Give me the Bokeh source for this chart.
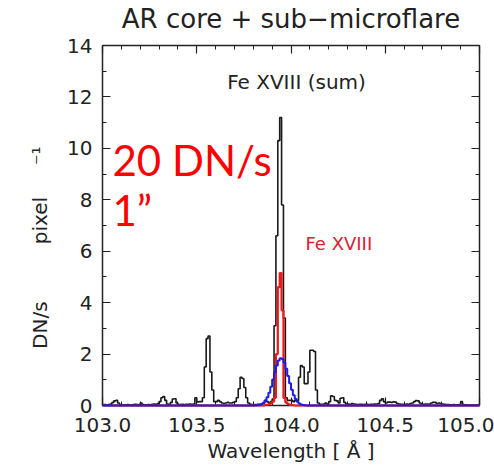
import numpy as np
from bokeh.plotting import figure
from bokeh.models import (Range1d, LinearAxis, SingleIntervalTicker, NumeralTickFormatter,
                          Label, CustomLabelingPolicy)
from bokeh.embed import file_html
from bokeh.resources import INLINE

# ---------------- data ----------------
wl_start = 103.0      # first bin edge [Angstrom]
bin_width = 0.01      # bin width [Angstrom]

# Fe XVIII (sum) spectrum, DN/s pixel^-1, 200 bins 103.00 .. 105.00
black_counts = [
    0.04, 0.04, 0.03, 0.04, 0.06, 0.12, 0.18, 0.20, 0.10, 0.04,   # 103.0
    0.03, 0.02, 0.03, 0.04, 0.03, 0.03, 0.04, 0.05, 0.04, 0.03,   # 103.1
    0.10, 0.04, 0.03, 0.03, 0.04, 0.03, 0.05, 0.06, 0.05, 0.08,   # 103.2
    0.15, 0.30, 0.35, 0.20, 0.06, 0.05, 0.12, 0.25, 0.26, 0.10,   # 103.3
    0.04, 0.04, 0.05, 0.04, 0.05, 0.05, 0.06, 0.05, 0.06, 0.30,   # 103.4
    0.14, 0.15, 0.15, 0.30, 1.50, 2.60, 2.70, 1.30, 0.60, 0.15,   # 103.5
    0.15, 0.20, 0.15, 0.10, 0.08, 0.10, 0.12, 0.10, 0.10, 0.12,   # 103.6
    0.15, 0.30, 0.65, 1.10, 1.05, 0.70, 0.30, 0.10, 0.05, 0.04,   # 103.7
    0.04, 0.04, 0.05, 0.05, 0.06, 0.08, 0.20, 0.15, 0.10, 0.15,   # 103.8
    0.25, 3.10, 6.60, 10.30, 11.20, 7.80, 3.40, 0.30, 0.20, 0.20, # 103.9
    0.20, 0.15, 0.20, 0.20, 1.10, 1.55, 1.50, 0.85, 0.85, 1.30,   # 104.0
    2.15, 2.15, 2.10, 0.60, 0.10, 0.05, 0.05, 0.06, 0.10, 0.05,   # 104.1
    0.15, 0.38, 0.35, 0.20, 0.18, 0.10, 0.28, 0.30, 0.12, 0.06,   # 104.2
    0.06, 0.05, 0.08, 0.06, 0.05, 0.04, 0.05, 0.05, 0.04, 0.05,   # 104.3
    0.05, 0.04, 0.05, 0.05, 0.06, 0.06, 0.08, 0.20, 0.26, 0.15,   # 104.4
    0.10, 0.13, 0.13, 0.12, 0.14, 0.13, 0.08, 0.06, 0.05, 0.05,   # 104.5
    0.05, 0.06, 0.05, 0.08, 0.10, 0.15, 0.19, 0.18, 0.10, 0.06,   # 104.6
    0.05, 0.06, 0.06, 0.05, 0.10, 0.12, 0.12, 0.08, 0.10, 0.08,   # 104.7
    0.06, 0.05, 0.04, 0.04, 0.03, 0.03, 0.04, 0.03, 0.03, 0.04,   # 104.8
    0.15, 0.04, 0.03, 0.03, 0.02, 0.02, 0.02, 0.02, 0.02, 0.02,   # 104.9
]

# single Fe XVIII line (red) and broad component (blue), 30 bins from 103.80
fit_start = 103.80
red_counts = [
    0.0, 0.0, 0.0, 0.0, 0.0, 0.0, 0.02, 0.03, 0.05, 0.08,
    0.15, 0.30, 2.00, 4.60, 5.15, 3.70, 0.30, 0.12, 0.06, 0.03,
    0.02, 0.01, 0.0, 0.0, 0.0, 0.0, 0.0, 0.0, 0.0, 0.0,
]
blue_counts = [
    0.002, 0.005, 0.012, 0.027, 0.055, 0.106, 0.19, 0.318, 0.50, 0.733,
    1.007, 1.293, 1.554, 1.746, 1.836, 1.805, 1.661, 1.429, 1.151, 0.866,
    0.61, 0.402, 0.248, 0.143, 0.077, 0.039, 0.018, 0.008, 0.004, 0.002,
]

x_ticks_interval = 0.5
y_ticks_interval = 2

title_text = "AR core + sub\u2212microflare"
x_label = "Wavelength [ \u00c5 ]"
NB = "\u00a0"
y_label = "DN/s" + NB * 9 + "pixel" + NB * 5 + "\u207b\u00b9" + NB * 7

# ---------------- build ----------------
n = len(black_counts)
edges = wl_start + bin_width * np.arange(n + 1)


def full(vals, start):
    arr = np.zeros(n)
    i0 = int(round((start - wl_start) / bin_width))
    arr[i0:i0 + len(vals)] = vals
    return arr


def stepy(v):
    v = np.asarray(v, dtype=float)
    return np.append(v, v[-1])


black = np.asarray(black_counts, dtype=float)
red = full(red_counts, fit_start)
blue = full(blue_counts, fit_start)

W, H = 494, 468
FL, FR, FT, FB = 102, 482, 43, 405   # frame edges in page pixels
FONT = "DejaVu Sans"
INK = "#222222"

p = figure(width=W, height=H, x_range=Range1d(103.0, 105.0), y_range=Range1d(0, 14),
           output_backend="svg", toolbar_location=None,
           min_border_left=FL, min_border_right=W - FR, min_border_top=FT,
           min_border_bottom=H - FB)
p.grid.visible = False
p.outline_line_color = None
p.background_fill_color = "white"
p.border_fill_color = "white"

p.title.text = title_text
p.title.align = "center"
p.title.text_font = FONT
p.title.text_font_size = "26px"
p.title.text_font_style = "normal"
p.title.text_color = INK
p.title.standoff = 2

bottom = p.below[0]
left = p.left[0]
bottom.ticker = SingleIntervalTicker(interval=x_ticks_interval, num_minor_ticks=5)
bottom.formatter = NumeralTickFormatter(format="0.0")
left.ticker = SingleIntervalTicker(interval=y_ticks_interval, num_minor_ticks=2)

NOLAB = "for (const i of indices) indices.unset(i)\nreturn indices"
top = LinearAxis(ticker=SingleIntervalTicker(interval=x_ticks_interval, num_minor_ticks=5),
                 major_label_policy=CustomLabelingPolicy(code=NOLAB), major_label_standoff=0)
right = LinearAxis(ticker=SingleIntervalTicker(interval=y_ticks_interval, num_minor_ticks=2),
                   major_label_policy=CustomLabelingPolicy(code=NOLAB), major_label_standoff=0)
p.add_layout(top, "above")
p.add_layout(right, "right")

for ax in [bottom, left, top, right]:
    ax.major_tick_in = 8
    ax.major_tick_out = 0
    ax.minor_tick_in = 4
    ax.minor_tick_out = 0
    ax.axis_line_width = 1.5
    ax.major_tick_line_width = 1.2
    ax.minor_tick_line_width = 1.0
    ax.axis_line_color = INK
    ax.major_tick_line_color = INK
    ax.minor_tick_line_color = INK

for ax in [bottom, left]:
    ax.major_label_text_font = FONT
    ax.major_label_text_font_size = "20px"
    ax.major_label_text_color = INK
    ax.axis_label_text_font = FONT
    ax.axis_label_text_font_size = "20px"
    ax.axis_label_text_font_style = "normal"
    ax.axis_label_text_color = INK
bottom.major_label_standoff = 12
left.major_label_standoff = 10
bottom.axis_label = x_label
bottom.axis_label_standoff = 4
left.axis_label = y_label
left.axis_label_standoff = 12

r1 = p.step(edges, stepy(black), mode="after", line_color="#1a1a1a", line_width=1.6)
r2 = p.step(edges, stepy(red), mode="after", line_color="#f01818", line_width=2.2)
r3 = p.step(edges, stepy(blue), mode="after", line_color="#1c1cf0", line_width=2.0)
for r in (r1, r2, r3):
    r.level = "overlay"


def lab(text, px, py, size, color=INK, font=FONT, align="left"):
    # canvas units: origin at the canvas' top-left corner
    p.add_layout(Label(x=px, y=py, x_units="canvas", y_units="canvas",
                       text=text, text_font=font, text_font_size=size, text_color=color,
                       text_align=align, text_baseline="alphabetic"))


lab("Fe XVIII (sum)", 296, 81, "20px", align="center")
lab("Fe XVIII", 305, 243, "18px", color="#d8232f")
lab("20 DN/s", 112, 159, "42px", color="#ff0000", font="Lato")
lab("1\u201d", 112, 209, "42px", color="#ff0000", font="Lato")

open("out.html", "w").write(file_html(p, INLINE))
